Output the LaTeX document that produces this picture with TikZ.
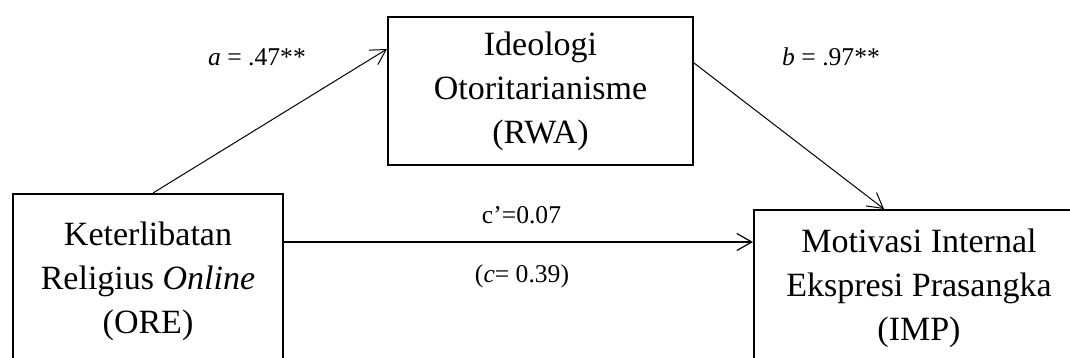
\documentclass[tikz,border=0pt]{standalone}
\usepackage{fontspec}
\setmainfont{Liberation Serif}
\usetikzlibrary{arrows.meta}

\tikzset{
  varbox/.style={draw, line width=2pt, inner sep=0pt, align=center,
    font=\fontsize{34}{44}\selectfont},
  coef/.style={inner sep=0pt, font=\fontsize{25.6}{30}\selectfont},
  effect/.style={-{Straight Barb[length=15pt,width=17pt]}, line width=1pt}
}

\begin{document}
\begin{tikzpicture}[x=1pt, y=-1pt]
\useasboundingbox (0,0) rectangle (1070,358);
\clip (0,0) rectangle (1070,358);
%%variables
\node[varbox, minimum width=270pt, minimum height=174pt] (ore) at (148,281)
     {Keterlibatan\\Religius \textit{Online}\\(ORE)};
\node[varbox, minimum width=305pt, minimum height=148pt] (rwa) at (540.5,91)
     {Ideologi\\Otoritarianisme\\(RWA)};
\node[varbox, minimum width=330pt, minimum height=156pt] (imp) at (919,288)
     {Motivasi Internal\\Ekspresi Prasangka\\(IMP)};
%paths a, b
\draw[effect] ([xshift=5pt]ore.north) -- ([yshift=42pt]rwa.west);
\draw[effect] ([yshift=28pt]rwa.east) -- ([xshift=-35pt]imp.north);
%path c
\draw[effect, line width=1.2pt] ([yshift=39pt]ore.east) -- ([yshift=39pt]ore.east -| imp.west);
%%coefficients
\node[coef, anchor=base west] (la) at (208,66) {\textit{a} = .47**};
\node[coef, anchor=base west] (lb) at (782,66) {\textit{b} = .97**};
\node[coef, anchor=base] (lc) at (521.5,223) {c’=0.07};
\node[coef, anchor=base] (ltot) at (522,282) {(\textit{c}= 0.39)};
\end{tikzpicture}
\end{document}
